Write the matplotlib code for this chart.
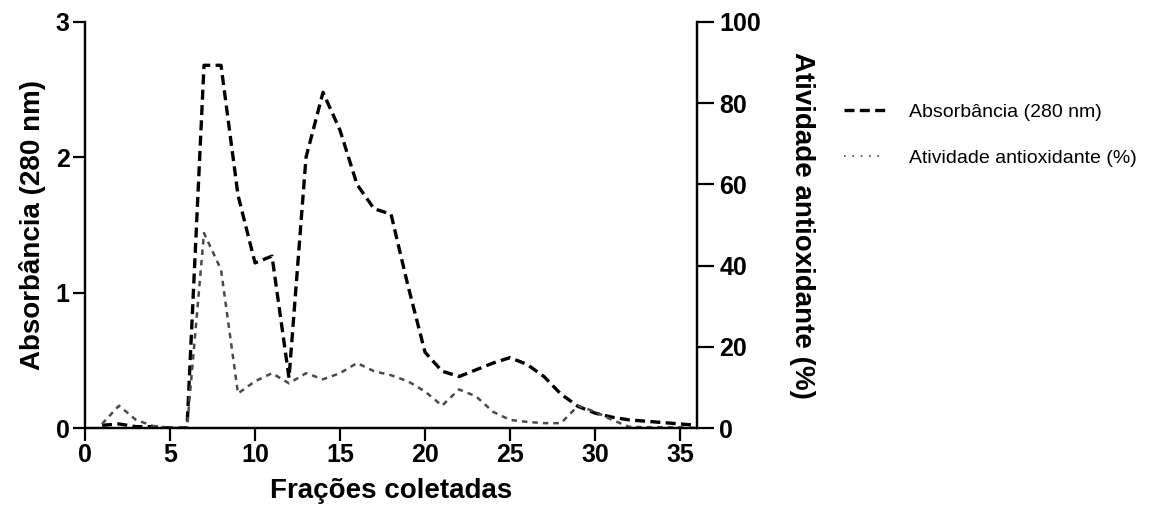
import numpy as np
import matplotlib
matplotlib.use('Agg')
import matplotlib.pyplot as plt

fracoes = list(range(1, 37))
absorbancia = [0.02, 0.03, 0.01, 0.01, 0.0, 0.0, 2.68, 2.68, 1.72, 1.22,
               1.27, 0.37, 2.0, 2.48, 2.2, 1.8, 1.62, 1.58, 1.05, 0.56,
               0.42, 0.38, 0.43, 0.48, 0.52, 0.47, 0.38, 0.25, 0.16, 0.11,
               0.08, 0.06, 0.05, 0.04, 0.03, 0.02]
atividade = [1.0, 5.5, 2.0, 0.5, 0.0, 0.0, 48.0, 39.0, 8.5, 11.5,
             13.5, 11.0, 13.5, 12.0, 13.5, 16.0, 14.0, 13.0, 11.5, 9.0,
             5.5, 9.5, 7.8, 4.0, 2.0, 1.5, 1.2, 1.2, 5.5, 4.0,
             2.0, 0.3, 0.2, 0.2, 0.2, 0.0]

x_ticks = [0, 5, 10, 15, 20, 25, 30, 35]
y_left_ticks = [0, 1, 2, 3]
y_right_ticks = [0, 20, 40, 60, 80, 100]

plt.rcParams['font.family'] = ['Liberation Sans', 'DejaVu Sans']

fig = plt.figure(figsize=(11.66, 5.21), dpi=100)
ax = fig.add_axes([0.0729, 0.1785, 0.5249, 0.7793])
ax2 = ax.twinx()

ax.plot(fracoes, absorbancia, color='black', lw=2.4,
        linestyle=(0, (3.0, 1.6)), zorder=3)
ax2.plot(fracoes, atividade, color='#4a4a4a', lw=1.8,
         linestyle=(0, (2.2, 2.0)), zorder=2)

ax.set_xlim(0, 36)
ax.set_ylim(0, 3)
ax2.set_ylim(0, 100)
ax.set_xticks(x_ticks)
ax.set_yticks(y_left_ticks)
ax2.set_yticks(y_right_ticks)

for a in (ax, ax2):
    a.spines['top'].set_visible(False)
    for s in a.spines.values():
        s.set_linewidth(1.6)
    a.tick_params(length=9, width=1.6, labelsize=18, pad=2, direction='out')
    for lbl in a.get_xticklabels() + a.get_yticklabels():
        lbl.set_fontweight('bold')
ax2.tick_params(axis='y', length=12, pad=4)

ax.set_xlabel('Frações coletadas', fontsize=20, fontweight='bold', labelpad=8)
ax.set_ylabel('Absorbância (280 nm)', fontsize=20, fontweight='bold', labelpad=7)
ax2.set_ylabel('Atividade antioxidante (%)', fontsize=20, fontweight='bold',
               rotation=-90, labelpad=39)

h1 = plt.Line2D([], [], color='black', lw=2.4, linestyle=(0, (3.0, 1.6)))
h2 = plt.Line2D([], [], color='#4a4a4a', lw=1.2, linestyle=(0, (1, 4)))
fig.legend([h1, h2], ['Absorbância (280 nm)', 'Atividade antioxidante (%)'],
           loc='upper left', bbox_to_anchor=(0.709, 0.835), frameon=False,
           prop={'size': 14}, handlelength=2.1, handletextpad=1.25,
           labelspacing=1.45)

fig.savefig('out.png', dpi=100)
